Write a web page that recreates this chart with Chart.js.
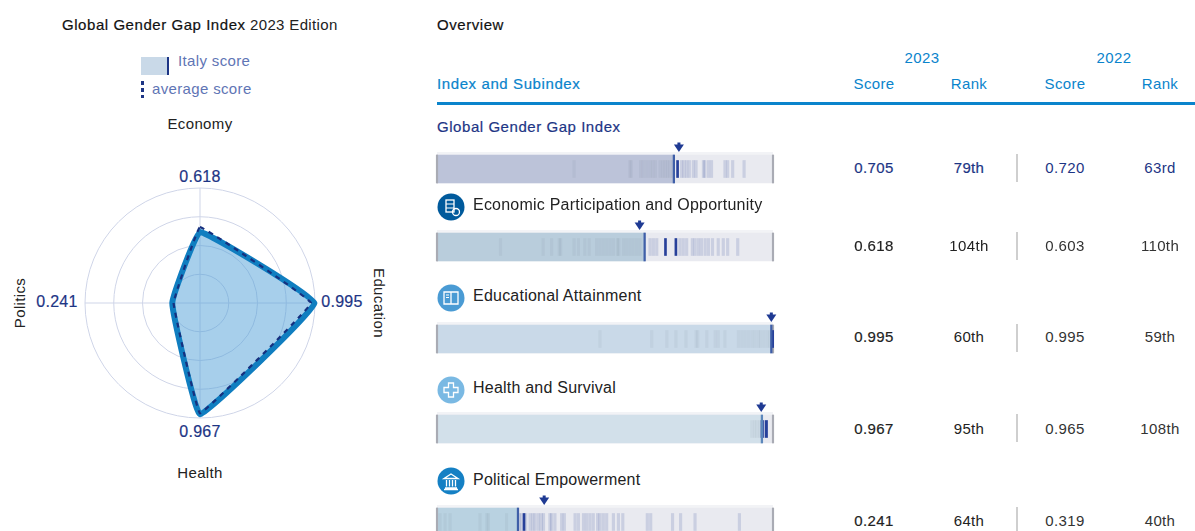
<!DOCTYPE html>
<html><head><meta charset="utf-8">
<script src="https://cdn.jsdelivr.net/npm/chart.js@4"></script>
<style>
html,body{margin:0;padding:0;background:#fff;width:1195px;height:531px;overflow:hidden}
body{position:relative;font-family:"Liberation Sans",Arial,sans-serif;font-size:15px;color:#222}
.t{position:absolute;white-space:nowrap;line-height:20px;transform:translateY(-50%)}
.c{transform:translate(-50%,-50%)}
.m{-webkit-text-stroke:.2px currentColor}
canvas{position:absolute;display:block}
.d{position:absolute}
</style></head><body>
<script>
// ---- data ----
const axisLabels = ["Economy","Education","Health","Politics"];
const italyScores = [0.618,0.995,0.967,0.241];
const averageScores = [0.66,0.965,0.96,0.23];
const rowNames = ["Global Gender Gap Index","Economic Participation and Opportunity","Educational Attainment","Health and Survival","Political Empowerment"];
const score2023 = [0.705,0.618,0.995,0.967,0.241];
const rank2023 = ["79th","104th","60th","95th","64th"];
const score2022 = [0.720,0.603,0.995,0.965,0.319];
const rank2022 = ["63rd","110th","59th","108th","40th"];
const peersGlobal = [.408,.574,.578,.606,.614,.624,.634,.642,.650,.664,.672,.679,.686,.693,.701,.728,.735,.743,.751,.763,.771,.793,.797,.808,.817,.857,.865,.880,.914];
const peersEconomy = [.189,.316,.341,.364,.368,.408,.421,.440,.453,.475,.485,.495,.505,.515,.525,.537,.541,.555,.564,.574,.584,.594,.604,.634,.644,.654,.723,.733,.743,.760,.768,.778,.787,.798,.808,.820,.837,.852,.865,.895];
const peersEducation = [.485,.639,.684,.711,.741,.771,.776,.803,.828,.837,.857,.897,.907,.917,.927,.937,.946,.956,.963,.973,.983,.991];
const peersHealth = [.937,.945,.952,.960];
const peersPolitics = [.009,.024,.039,.128,.148,.153,.207,.245,.252,.264,.277,.285,.292,.302,.310,.317,.336,.341,.351,.371,.379,.411,.421,.436,.445,.455,.465,.478,.485,.495,.505,.525,.540,.553,.626,.636,.701,.725,.768,.900];
const peerGroups = [peersGlobal,peersEconomy,peersEducation,peersHealth,peersPolitics];
const focusGlobal = [.716];
const focusEconomy = [.680,.711];
const focusEducation = [.999];
const focusHealth = [.968,.980];
const focusPolitics = [.259];
const focusGroups = [focusGlobal,focusEconomy,focusEducation,focusHealth,focusPolitics];

// ---- styles ----
const NAVY="#1d3585", BLUE="#0a84cc";
const rowFill=["#bcc3d9","#b9cddc","#c9d9e8","#d2e0ea","#b9d2e1"];
const rowCenter=[169,247,339,429,522];
const valueY=[168,246,337,429,521];
const labelY=[127,205,296,388,480];
const iconY=[null,207,298,389.5,481];
const iconColor=[null,"#005a9c","#4a9bd4","#7ab9e3","#1580c4"];
const iconPath=[null,
 '<rect x="9" y="7" width="8" height="12" fill="none" stroke="#fff" stroke-width="1.3"/><path d="M9 11h8M9 15h8" stroke="#fff"/><circle cx="19" cy="19" r="3.5" fill="none" stroke="#fff" stroke-width="1.3"/>',
 '<path d="M7 8h7v12H7zM14 8h7v12h-7z" fill="none" stroke="#fff" stroke-width="1.3"/><path d="M9 11h3M9 13.5h3" stroke="#fff"/>',
 '<path d="M11.5 7h5v4.5H21v5h-4.5V21h-5v-4.5H7v-5h4.5z" fill="none" stroke="#fff" stroke-width="1.3"/>',
 '<path d="M7 11.5L14 7l7 4.5zM8 21h12M7 22.5h14M9.5 13v6.5M12.5 13v6.5M15.5 13v6.5M18.5 13v6.5" fill="none" stroke="#fff" stroke-width="1.3"/>'];

function text(s,x,y,o={}){
  const e=document.createElement('div');
  e.className='t'+(o.center?' c':'')+(o.medium?' m':'');
  e.textContent=s;
  e.style.left=x+'px';e.style.top=y+'px';
  if(o.color)e.style.color=o.color;
  if(o.size)e.style.fontSize=o.size+'px';
  if(o.ls)e.style.letterSpacing=o.ls+'px';
  if(o.rot)e.style.transform='translate(-50%,-50%) rotate('+o.rot+'deg)';
  document.body.appendChild(e);return e;
}
function box(x,y,w,h,css){
  const e=document.createElement('div');e.className='d';
  e.style.cssText+=`left:${x}px;top:${y}px;width:${w}px;height:${h}px;${css}`;
  document.body.appendChild(e);return e;
}
const LS=0.35;
// title + legend
text("Global Gender Gap Index",62,25,{medium:true,ls:.55,color:"#111"});
text("2023 Edition",250,25,{ls:LS,color:"#222"});
box(141,57,26,18,"background:#c9d9e8");
box(167,57,1.5,18,"background:"+NAVY);
text("Italy score",178,61,{color:"#5f75b5",ls:LS});
box(141,81,2.5,17,`background:repeating-linear-gradient(to bottom,${NAVY} 0 4px,transparent 4px 7px)`);
text("average score",152,89,{color:"#5f75b5",ls:LS});
// radar labels
text(axisLabels[0],200,123.5,{center:true,ls:LS});
text(axisLabels[2],200,472.5,{center:true,ls:LS});
text(axisLabels[3],20,303,{center:true,rot:-90,ls:LS});
text(axisLabels[1],379,303,{center:true,rot:90,ls:LS});
const vp=[[200,177],[342,302],[200,432],[57,302]];
italyScores.forEach((v,i)=>text(v.toFixed(3),vp[i][0],vp[i][1],{center:true,color:NAVY,size:16,ls:.3,medium:true}));

// radar
const rc=document.createElement('canvas');
rc.width=250;rc.height=250;rc.style.left='75px';rc.style.top='178px';
document.body.appendChild(rc);
new Chart(rc,{type:'radar',
 data:{labels:axisLabels,datasets:[
  {label:'average score',data:averageScores,borderColor:'#16307f',borderWidth:2.2,borderDash:[5,5],fill:false,pointRadius:0,tension:.05,borderJoinStyle:'round'},
  {label:'Italy score',data:italyScores,borderColor:'#107ec0',borderWidth:6,backgroundColor:'rgba(80,160,215,.5)',fill:true,pointRadius:0,tension:.08,borderJoinStyle:'round'}
 ]},
 options:{responsive:false,animation:false,devicePixelRatio:1,layout:{padding:10},
  plugins:{legend:{display:false},tooltip:{enabled:false},title:{display:false}},
  scales:{r:{min:0,max:1,ticks:{display:false,stepSize:.25},pointLabels:{display:false},
    grid:{circular:true,color:'#cfd5e8',lineWidth:1},angleLines:{color:'#cfd5e8',lineWidth:1},border:{display:false}}}}
});

// table header
text("Overview",437,25,{medium:true,color:"#111",ls:.55});
text("2023",922,58,{center:true,color:BLUE,ls:LS});
text("2022",1114,58,{center:true,color:BLUE,ls:LS});
text("Index and Subindex",437,84,{color:BLUE,ls:.6,medium:true});
[["Score",874],["Rank",969],["Score",1065],["Rank",1160]].forEach(a=>text(a[0],a[1],84,{center:true,color:BLUE,ls:LS}));
box(437,102,758,2.5,"background:"+BLUE);

// strip plugin: arrow above strip at the 2022 score
const arrow={id:'arrow',afterDatasetsDraw(ch,a,o){
  const c=ch.ctx,x=ch.scales.x.getPixelForValue(o.value),y=ch.scales.y.getPixelForValue(0)-21.5;
  c.save();c.fillStyle='#1f3a93';c.beginPath();
  c.moveTo(x-5,y-3);c.lineTo(x+5,y-3);c.lineTo(x,y+4.5);c.closePath();c.fill();
  c.fillRect(x-1.5,y-5,3,3);c.restore();
}};
const PAD=10/336;
function seg(v,px,color,thick){const hw=px/2/336;return{data:[[v-hw,v+hw]],backgroundColor:color,barThickness:thick,borderWidth:0,grouped:false};}

rowNames.forEach((name,i)=>{
  const cy=rowCenter[i];
  // label / icon
  if(i===0){text(name,437,labelY[i],{color:NAVY,ls:.55,medium:true});}
  else{
    text(name,473,labelY[i],{ls:.22,size:16,color:"#222"});
    const s=document.createElement('div');s.className='d';
    s.style.cssText=`left:437px;top:${iconY[i]-14}px;width:28px;height:28px`;
    s.innerHTML=`<svg width="28" height="28" viewBox="0 0 28 28"><circle cx="14" cy="14" r="13.5" fill="${iconColor[i]}"/>${iconPath[i]}</svg>`;
    document.body.appendChild(s);
  }
  // band above strip
  box(437,cy-17,336,3,"background:#f2f3f6");
  // chart
  const cv=document.createElement('canvas');
  cv.width=356;cv.height=60;cv.style.left='427px';cv.style.top=(cy-30)+'px';
  document.body.appendChild(cv);
  const ds=[];
  ds.push(seg(score2023[i],1.6,i===3?'#5c87bb':'#3f5fa8',28));
  focusGroups[i].forEach(v=>ds.push(seg(v,i===3?2.5:2,'#27409a',17)));
  ds.push(seg(0,1.5,'#a9abb4',28));
  ds.push(seg(1,1.5,'#a9abb4',28));
  peerGroups[i].forEach(v=>{
    const inside=v<score2023[i];
    ds.push(seg(v,2.5,inside?'rgba(70,80,110,.06)':'rgba(30,55,140,.15)',17));
  });
  ds.push({data:[[0,score2023[i]]],backgroundColor:rowFill[i],barThickness:28,borderWidth:0,grouped:false});
  ds.push({data:[[0,1]],backgroundColor:'#e9eaf0',barThickness:28,borderWidth:0,grouped:false});
  new Chart(cv,{type:'bar',plugins:[arrow],
    data:{labels:[name],datasets:ds},
    options:{indexAxis:'y',responsive:false,animation:false,devicePixelRatio:1,
      layout:{padding:0},
      plugins:{legend:{display:false},tooltip:{enabled:false},arrow:{value:score2022[i]}},
      scales:{x:{type:'linear',min:-PAD,max:1+PAD,display:false},y:{display:false}}}
  });
  // values
  const col=i===0?NAVY:"#222", y=valueY[i];
  text(score2023[i].toFixed(3),874,y,{center:true,color:col,medium:true,ls:LS});
  text(rank2023[i],969,y,{center:true,color:col,medium:i===0,ls:LS});
  text(score2022[i].toFixed(3),1065,y,{center:true,color:i===0?NAVY:"#333",ls:LS});
  text(rank2022[i],1160,y,{center:true,color:i===0?NAVY:"#333",ls:LS});
  box(1015.5,cy-15,2,28,"background:#cfcfcf");
});
</script>
</body></html>
